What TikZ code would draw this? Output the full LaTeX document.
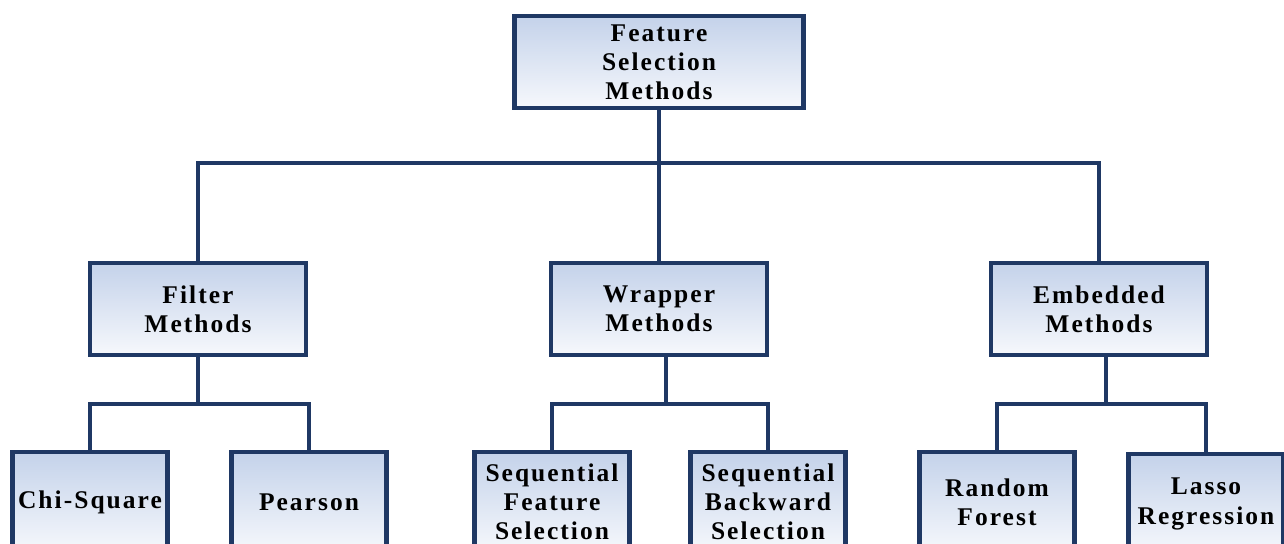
\documentclass[tikz,border=0pt]{standalone}
\usepackage{fontspec}
\setmainfont{Liberation Serif}[LetterSpace=8]
\usepackage{tikz}
\definecolor{boxnavy}{RGB}{31,56,100}
\definecolor{boxtop}{RGB}{196,210,234}
\definecolor{boxbottom}{RGB}{246,248,252}

\begin{document}
\begin{tikzpicture}[x=0.02cm, y=-0.02cm,
  box/.style={draw=boxnavy, line width=2.6pt, top color=boxtop, bottom color=boxbottom,
    align=center, inner sep=0pt, font=\fontsize{14.5}{16.6}\selectfont\bfseries},
  bigbox/.style={box, minimum width=5.78cm, minimum height=1.84cm},
  midbox/.style={box, minimum width=4.32cm, minimum height=1.84cm},
  leafbox/.style={box, minimum width=3.1cm, minimum height=2.0cm},
  link/.style={draw=boxnavy, line width=2.5pt}]
\useasboundingbox (0,0) rectangle (1284,544);

\node[bigbox] (fsm) at (659,62) {Feature\\Selection\\Methods};

\node[midbox] (filter) at (198,309) {Filter\\Methods};
\node[midbox] (wrapper) at (659,309) {Wrapper\\Methods};
\node[midbox] (embedded) at (1099,309) {Embedded\\Methods};

\node[leafbox] (chi) at (90,502) {Chi-Square};
\node[leafbox] (pearson) at (309,502) {Pearson};
\node[leafbox] (sfs) at (552,502) {Sequential\\Feature\\Selection};
\node[leafbox] (sbs) at (768,502) {Sequential\\Backward\\Selection};
\node[leafbox] (forest) at (997,502) {Random\\Forest};
\node[leafbox] (lasso) at (1206,504) {Lasso\\Regression};

\draw[link] (fsm.south) -- ++(0,53) -| (filter.north);
\draw[link] (fsm.south) -- (wrapper.north);
\draw[link] (fsm.south) -- ++(0,53) -| (embedded.north);

\draw[link] (filter.south) -- ++(0,47) -| (chi.north);
\draw[link] (filter.south) -- ++(0,47) -| (pearson.north);
\draw[link] ([xshift=0.14cm]wrapper.south) -- ++(0,47) -| (sfs.north);
\draw[link] ([xshift=0.14cm]wrapper.south) -- ++(0,47) -| (sbs.north);
\draw[link] ([xshift=0.14cm]embedded.south) -- ++(0,47) -| (forest.north);
\draw[link] ([xshift=0.14cm]embedded.south) -- ++(0,47) -| (lasso.north);
\end{tikzpicture}
\end{document}
